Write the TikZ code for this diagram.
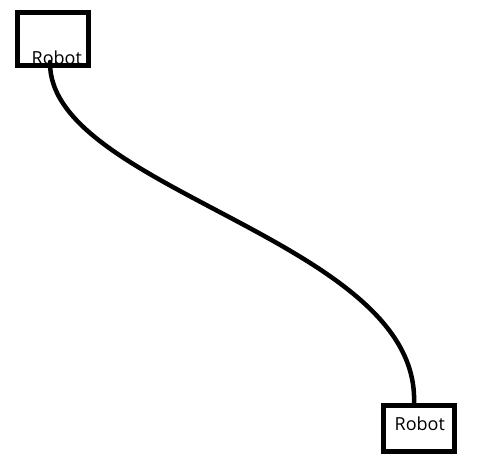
\documentclass[tikz,border=0pt]{standalone}
\usepackage{fontspec}
\setmainfont{Open Sans}
\begin{document}
\begin{tikzpicture}[x=1pt,y=-1pt,
  robotbox/.style={draw=black,line width=5pt,rectangle,inner sep=0pt,minimum width=71pt},
  robotlabel/.style={inner sep=0pt,anchor=base west,font=\fontsize{18}{20}\selectfont},
  link/.style={draw=black,line width=4.5pt,line cap=round}]
\useasboundingbox[fill=white] (0,0) rectangle (483,460);
\node[robotlabel] (t1) at (31.5,64.5) {Robot};
\node[robotbox,minimum height=53pt] (b1) at (53,39) {};
\node[robotbox,minimum height=46pt] (b2) at (419,428.5) {};
\node[robotlabel] (t2) at (394.5,430) {Robot};
\coordinate (s) at (50,62);
\coordinate (e) at ([xshift=-5pt]b2.north);
\draw[link] (s) .. controls (48,190) and (420,240) .. (e);
\end{tikzpicture}
\end{document}
